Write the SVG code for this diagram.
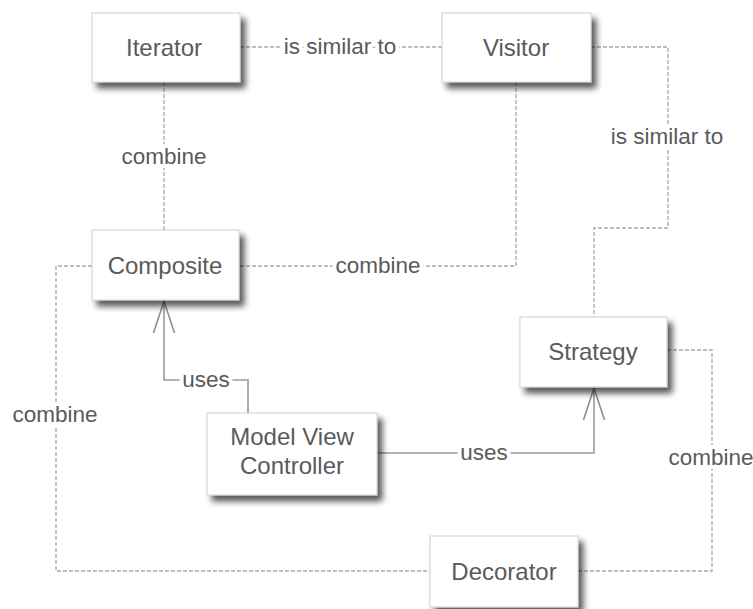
<svg xmlns="http://www.w3.org/2000/svg" width="753" height="609" viewBox="0 0 753 609">
  <defs>
    <filter id="shadow" x="-20%" y="-20%" width="150%" height="160%">
      <feGaussianBlur in="SourceAlpha" stdDeviation="3"/>
      <feOffset dx="5" dy="6" result="blur"/>
      <feComponentTransfer><feFuncA type="linear" slope="0.65"/></feComponentTransfer>
      <feMerge><feMergeNode/><feMergeNode in="SourceGraphic"/></feMerge>
    </filter>
    <!-- open arrowhead, drawn pointing along +x -->
    <marker id="open" viewBox="0 0 34 24" refX="33" refY="12" markerWidth="34" markerHeight="24" markerUnits="userSpaceOnUse" orient="auto">
      <path d="M1,1.5 L33,12 L1,22.5" fill="none" stroke="#8f8f8f" stroke-width="1.6"/>
    </marker>
    <style>
      .box { fill: #ffffff; stroke: #d0d0d0; stroke-width: 1; filter: url(#shadow); }
      .name { font-family: "Liberation Sans", Arial, sans-serif; font-size: 24px; fill: #5a5a5a; text-anchor: middle; }
      .dash { fill: none; stroke: #a8a8a8; stroke-width: 1.3; stroke-dasharray: 4 2; }
      .solid { fill: none; stroke: #9a9a9a; stroke-width: 1.6; }
      .lbl { font-family: "Liberation Sans", Arial, sans-serif; font-size: 22.5px; fill: #5a5a5a; text-anchor: middle; stroke: #ffffff; stroke-width: 8; paint-order: stroke; stroke-linejoin: round; }
    </style>
  </defs>

  <!-- connectors -->
  <g id="connectors">
    <path class="dash" d="M240,47 H442"/>
    <path class="dash" d="M164,82 V230"/>
    <path class="dash" d="M591,47 H668 V228 H594 V317"/>
    <path class="dash" d="M516,82 V266 H239"/>
    <path class="dash" d="M92,266 H56 V571 H430"/>
    <path class="dash" d="M667,350 H712 V571 H578"/>
    <path class="solid" d="M248,413 V380 H164 V301" marker-end="url(#open)"/>
    <path class="solid" d="M377,453 H594 V388" marker-end="url(#open)"/>

    <text class="lbl" x="340" y="54">is similar to</text>
    <text class="lbl" x="164" y="164">combine</text>
    <text class="lbl" x="667" y="144">is similar to</text>
    <text class="lbl" x="378" y="273">combine</text>
    <text class="lbl" x="55" y="422">combine</text>
    <text class="lbl" x="711" y="465">combine</text>
    <text class="lbl" x="206" y="387">uses</text>
    <text class="lbl" x="484" y="460">uses</text>
  </g>

  <!-- nodes -->
  <g id="iterator">
    <rect class="box" x="92" y="13" width="148" height="69"/>
    <text class="name" x="164" y="56">Iterator</text>
  </g>
  <g id="visitor">
    <rect class="box" x="442" y="13" width="149" height="69"/>
    <text class="name" x="516" y="56">Visitor</text>
  </g>
  <g id="composite">
    <rect class="box" x="92" y="230" width="147" height="70"/>
    <text class="name" x="165" y="274">Composite</text>
  </g>
  <g id="strategy">
    <rect class="box" x="520" y="317" width="147" height="70"/>
    <text class="name" x="593" y="360">Strategy</text>
  </g>
  <g id="mvc">
    <rect class="box" x="207" y="413" width="170" height="82"/>
    <text class="name" x="292" y="445">Model View</text>
    <text class="name" x="292" y="474">Controller</text>
  </g>
  <g id="decorator">
    <rect class="box" x="430" y="536" width="148" height="71"/>
    <text class="name" x="504" y="580">Decorator</text>
  </g>
</svg>
